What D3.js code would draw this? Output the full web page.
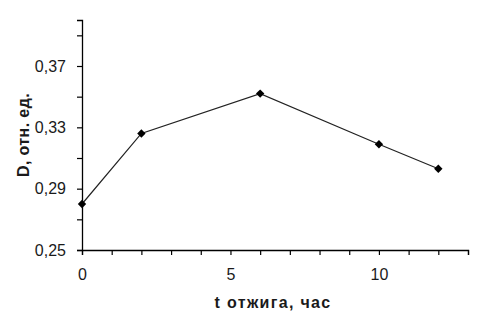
<!DOCTYPE html>
<html>
<head>
<meta charset="utf-8">
<script src="https://cdn.jsdelivr.net/npm/d3@7"></script>
<style>
  body { margin: 0; background: #fff; }
  text { font-family: "Liberation Sans", Arial, sans-serif; fill: #1a1a1a; }
</style>
</head>
<body>
<div id="chart"></div>
<script>
'use strict';

// время отжига, ч
var hours = [0, 2, 6, 10, 12];
// D, отн. ед.
var density = [0.280, 0.326, 0.352, 0.319, 0.303];

var xMajor = [0, 5, 10];
var yMajor = [0.25, 0.29, 0.33, 0.37];

var xTitle = 't отжига, час';
var yTitle = 'D, отн. ед.';

var W = 485, H = 324;
var margins = {top: 20, bottom: 74, left: 82, right: 17};
var cw = W - margins.left - margins.right;
var ch = H - margins.top - margins.bottom;

var svg = d3.select('#chart').append('svg')
    .attr('width', W)
    .attr('height', H);

var chart = svg.append('g')
    .attr('transform', 'translate(' + margins.left + ',' + margins.top + ')');

var xScale = d3.scaleLinear().domain([0, 13]).range([0, cw]);
var yScale = d3.scaleLinear().domain([0.25, 0.40]).range([ch, 0]);

var fmt = function(d){ return d3.format('.2f')(d).replace('.', ','); };

// мелкие деления без подписей
var xAxis = d3.axisBottom(xScale)
    .tickValues(d3.range(0, 14, 1))
    .tickSize(5)
    .tickFormat(function(d){ return xMajor.indexOf(d) >= 0 ? d : ''; })
    .tickPadding(14);

var yAxis = d3.axisLeft(yScale)
    .tickValues(d3.range(0, 8).map(function(i){ return +(0.25 + i * 0.02).toFixed(2); }))
    .tickSize(5)
    .tickFormat(function(d){
        return yMajor.some(function(v){ return Math.abs(v - d) < 1e-9; }) ? fmt(d) : '';
    })
    .tickPadding(11);

var gx = chart.append('g')
    .attr('transform', 'translate(0,' + ch + ')')
    .call(xAxis);

var gy = chart.append('g')
    .call(yAxis);

[gx, gy].forEach(function(g){
    g.select('.domain').attr('stroke', '#000').attr('stroke-width', 1.3);
    g.selectAll('.tick line').attr('stroke', '#000').attr('stroke-width', 1.2);
    g.selectAll('.tick text').style('font-size', '16px').attr('fill', '#1a1a1a');
});

var line = d3.line()
    .x(function(d, i){ return xScale(hours[i]); })
    .y(function(d){ return yScale(d); });

chart.append('path')
    .datum(density)
    .attr('d', line)
    .attr('fill', 'none')
    .attr('stroke', '#222')
    .attr('stroke-width', 1.2);

chart.selectAll('path.marker')
    .data(density)
    .enter()
    .append('path')
    .attr('class', 'marker')
    .attr('d', d3.symbol().type(d3.symbolDiamond2).size(45))
    .attr('transform', function(d, i){
        return 'translate(' + xScale(hours[i]) + ',' + yScale(d) + ')';
    })
    .attr('fill', '#000');

svg.append('text')
    .attr('x', 273)
    .attr('y', 308)
    .attr('text-anchor', 'middle')
    .style('font-size', '16px')
    .style('font-weight', 'bold')
    .style('letter-spacing', '1.3px')
    .text(xTitle);

svg.append('text')
    .attr('transform', 'translate(29,135) rotate(-90)')
    .attr('text-anchor', 'middle')
    .style('font-size', '16px')
    .style('font-weight', 'bold')
    .style('letter-spacing', '0.4px')
    .text(yTitle);
</script>
</body>
</html>
